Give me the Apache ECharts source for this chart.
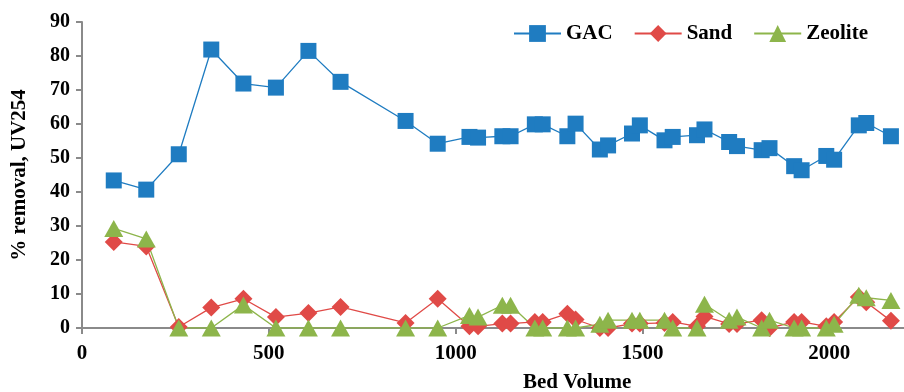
<!DOCTYPE html>
<html>
<head>
<meta charset="utf-8">
<script src="https://cdn.jsdelivr.net/npm/echarts@6/dist/echarts.min.js"></script>
<style>html,body{margin:0;padding:0;background:#fff}#c{width:904px;height:392px}</style>
</head>
<body>
<div id="c"></div>
<script>
const bedVolume = [85,172,259,346,432,519,606,692,866,952,1037,1060,1125,1147,1212,1233,1299,1321,1386,1408,1472,1493,1559,1581,1646,1666,1732,1753,1819,1840,1906,1926,1992,2013,2079,2099,2165];
const gac = [43.4,40.7,51.1,81.9,71.9,70.7,81.5,72.4,60.9,54.2,56.2,56.0,56.4,56.4,59.9,59.9,56.4,60.1,52.5,53.7,57.2,59.6,55.2,56.2,56.7,58.4,54.7,53.5,52.3,52.9,47.6,46.4,50.6,49.5,59.6,60.3,56.4];
const sand = [25.3,24.0,0.3,6.0,8.6,3.2,4.4,6.2,1.5,8.6,0.5,0.5,1.3,1.3,1.8,1.8,4.2,2.5,0,0,1.3,1.3,1.5,1.8,0.5,3.4,1.2,1.2,2.3,0,1.8,1.8,0.5,1.8,9.1,7.6,2.1];
const zeolite = [29.3,26.2,0,0,6.8,0,0,0,0,0,3.7,3.2,6.7,6.7,0,0,0,0,1.1,2.3,2.3,2.3,2.3,0,0,7.0,2.3,3.2,0,2.3,0,0,0,1.1,9.6,8.9,8.1];
const seriesNames = ['GAC','Sand','Zeolite'];
const xTitle = 'Bed Volume';
const yTitle = '% removal, UV254';

const font = 'Liberation Serif, Times New Roman, serif';
const pairs = arr => bedVolume.map((x,i)=>[x, arr[i]]);
const chart = echarts.init(document.getElementById('c'), null, {renderer:'canvas'});
const axisCol = '#8a8a8a';
chart.setOption({
  animation:false,
  backgroundColor:'#fff',
  grid:{left:82, top:22, width:825, height:306, containLabel:false},
  legend:{
    left:508, top:18, itemWidth:47, itemHeight:21, itemGap:21,
    textStyle:{fontFamily:font, fontWeight:'bold', fontSize:21, color:'#000'},
    data:seriesNames
  },
  xAxis:{
    type:'value', min:0, max:2200, interval:500,
    axisLine:{lineStyle:{color:axisCol, width:2}},
    axisTick:{show:true, length:6, lineStyle:{color:axisCol, width:2}},
    splitLine:{show:false},
    axisLabel:{showMaxLabel:false, margin:15, formatter:v=>String(v), fontFamily:font, fontWeight:'bold', fontSize:21, color:'#000'}
  },
  yAxis:{
    type:'value', min:0, max:90, interval:10,
    name:yTitle, nameLocation:'middle', nameGap:52,
    nameTextStyle:{fontFamily:font, fontWeight:'bold', fontSize:21, color:'#000'},
    axisLine:{show:true, lineStyle:{color:axisCol, width:2}},
    axisTick:{show:true, length:6, lineStyle:{color:axisCol, width:2}},
    splitLine:{show:false},
    axisLabel:{margin:12, formatter:v=>String(v), fontFamily:font, fontWeight:'bold', fontSize:20, color:'#000'}
  },
  graphic:[{
    type:'text', left:523, top:372,
    style:{text:xTitle, font:'bold 21px '+font, fill:'#000'}
  }],
  series:[
    {name:seriesNames[0], type:'line', data:pairs(gac), symbol:'rect', symbolSize:16,
     lineStyle:{color:'#1f7cc1', width:1.3}, itemStyle:{color:'#1f7cc1'}},
    {name:seriesNames[1], type:'line', data:pairs(sand), symbol:'diamond', symbolSize:[18,18],
     lineStyle:{color:'#e04a47', width:1.3}, itemStyle:{color:'#e04a47'}},
    {name:seriesNames[2], type:'line', data:pairs(zeolite), symbol:'triangle', symbolSize:[19,17],
     lineStyle:{color:'#8db54b', width:1.3}, itemStyle:{color:'#8db54b'}}
  ]
});
</script>
</body>
</html>
